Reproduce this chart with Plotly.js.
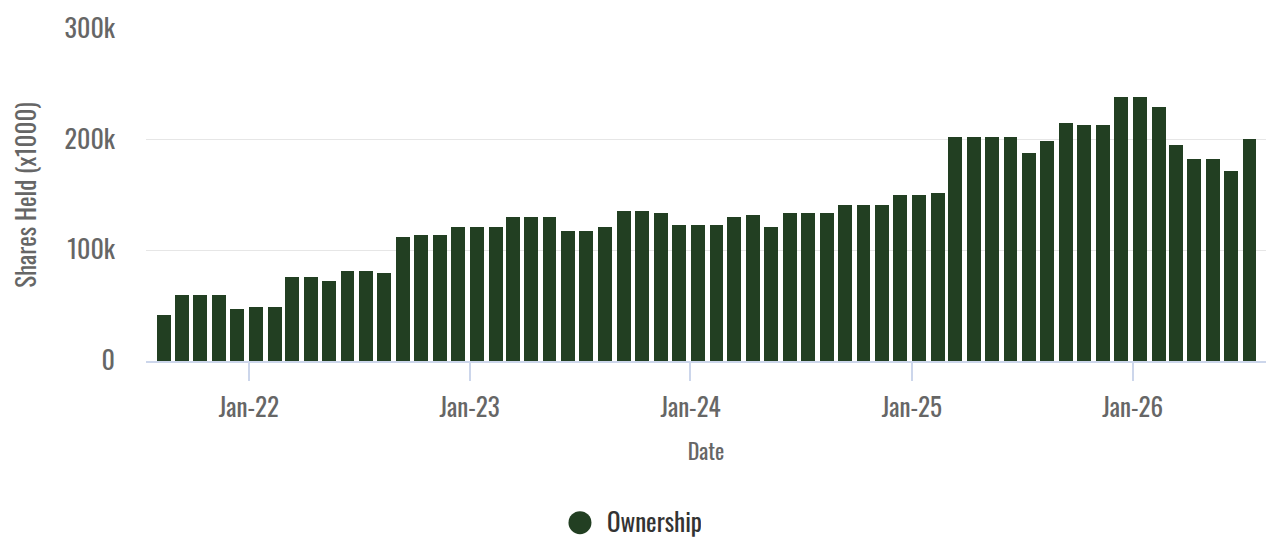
<!DOCTYPE html>
<html>
<head>
<meta charset="utf-8">
<script src="https://cdn.plot.ly/plotly-3.0.1.min.js"></script>
<style>
  html, body { margin: 0; padding: 0; background: #ffffff; }
  #chart { width: 1277px; height: 545px; }
</style>
</head>
<body>
<div id="chart"></div>
<script>
// Monthly holdings (shares held, x1000)
const dates = [
  '2021-08-13','2021-09-13','2021-10-13','2021-11-13','2021-12-13',
  '2022-01-13','2022-02-13','2022-03-13','2022-04-13','2022-05-13','2022-06-13',
  '2022-07-13','2022-08-13','2022-09-13','2022-10-13','2022-11-13','2022-12-13',
  '2023-01-13','2023-02-13','2023-03-13','2023-04-13','2023-05-13','2023-06-13',
  '2023-07-13','2023-08-13','2023-09-13','2023-10-13','2023-11-13','2023-12-13',
  '2024-01-13','2024-02-13','2024-03-13','2024-04-13','2024-05-13','2024-06-13',
  '2024-07-13','2024-08-13','2024-09-13','2024-10-13','2024-11-13','2024-12-13',
  '2025-01-13','2025-02-13','2025-03-13','2025-04-13','2025-05-13','2025-06-13',
  '2025-07-13','2025-08-13','2025-09-13','2025-10-13','2025-11-13','2025-12-13',
  '2026-01-13','2026-02-13','2026-03-13','2026-04-13','2026-05-13','2026-06-13',
  '2026-07-13'
];
const sharesHeld = [
  41300, 59300, 59300, 59300, 46700,
  48500, 48500, 75600, 75600, 72000, 81000,
  81000, 79200, 111700, 113600, 113600, 120800,
  120800, 120800, 129800, 129800, 129800, 117200,
  117200, 120800, 135300, 135300, 133400, 122600,
  122600, 122600, 129800, 131600, 120800, 133400,
  133400, 133400, 140600, 140600, 140600, 149700,
  149700, 151500, 202100, 202100, 202100, 202100,
  187600, 198500, 214700, 212900, 212900, 238200,
  238200, 229200, 194900, 182300, 182300, 171400,
  200300
];
const seriesName = 'Ownership';
const yTickVals = [0, 100000, 200000, 300000];
const yTickText = ['0', '100k', '200k', '300k'];
const xTitle = 'Date';
const yTitle = 'Shares Held (x1000)';

const FONT = "Oswald, 'Liberation Sans Narrow', 'Arial Narrow', 'Roboto Condensed', 'DejaVu Sans Condensed', sans-serif";
const BAR_COLOR = '#223f22';
const DAY = 86400000;

const traces = [
  {
    type: 'bar',
    x: dates,
    y: sharesHeld,
    width: 23 * DAY,
    marker: { color: BAR_COLOR, line: { width: 0 } },
    name: seriesName,
    showlegend: false,
    hovertemplate: '%{x|%b %Y}: %{y:,}<extra></extra>'
  },
  {
    type: 'scatter',
    mode: 'markers',
    x: [null],
    y: [null],
    name: seriesName,
    marker: { color: BAR_COLOR, size: 16, symbol: 'circle' },
    showlegend: true,
    hoverinfo: 'skip'
  }
];

const layout = {
  width: 1277,
  height: 545,
  paper_bgcolor: '#ffffff',
  plot_bgcolor: '#ffffff',
  font: { family: FONT, color: '#666666' },
  margin: { l: 146, r: 11, t: 29, b: 184, pad: 0 },
  showlegend: true,
  legend: {
    orientation: 'h',
    xref: 'container', yref: 'container',
    x: 0.4385, xanchor: 'left',
    y: 0.0404, yanchor: 'middle',
    font: { family: FONT, size: 25, color: '#333333' },
    bgcolor: 'rgba(0,0,0,0)',
    itemclick: false, itemdoubleclick: false
  },
  xaxis: {
    type: 'date',
    range: ['2021-07-15', '2026-08-09 08:00'],
    tickformat: '%b-%y',
    dtick: 'M12',
    tick0: '2022-01-01',
    ticks: 'outside',
    ticklen: 18,
    tickwidth: 2,
    tickcolor: '#ccd6eb',
    ticklabelstandoff: 6,
    showline: true,
    linecolor: '#ccd6eb',
    linewidth: 2,
    showgrid: false,
    zeroline: false,
    tickfont: { family: FONT, size: 25, color: '#666666' },
    title: { text: xTitle, font: { family: FONT, size: 22, color: '#666666' }, standoff: 22 },
    automargin: false,
    fixedrange: true
  },
  yaxis: {
    range: [0, 300000],
    tickvals: yTickVals,
    ticktext: yTickText,
    showgrid: true,
    gridcolor: '#e6e6e6',
    gridwidth: 1,
    zeroline: false,
    showline: false,
    ticks: '',
    ticklabelstandoff: 30,
    tickfont: { family: FONT, size: 26, color: '#666666' },
    title: { text: yTitle, font: { family: FONT, size: 25, color: '#666666' }, standoff: 20 },
    automargin: false,
    fixedrange: true
  },
  bargap: 0
};

Plotly.newPlot('chart', traces, layout, { displayModeBar: false, staticPlot: false, responsive: false }).then(function () {
  // enlarge legend dot and spacing to match the reference symbol
  document.querySelectorAll('.legend .legendpoints path.scatterpts').forEach(function (p) {
    p.setAttribute('d', 'M11.5,0A11.5,11.5 0 1,1 0,-11.5A11.5,11.5 0 0,1 11.5,0Z');
  });
  document.querySelectorAll('.legend text.legendtext').forEach(function (t) {
    t.setAttribute('x', '47');
  });
});
</script>
</body>
</html>
